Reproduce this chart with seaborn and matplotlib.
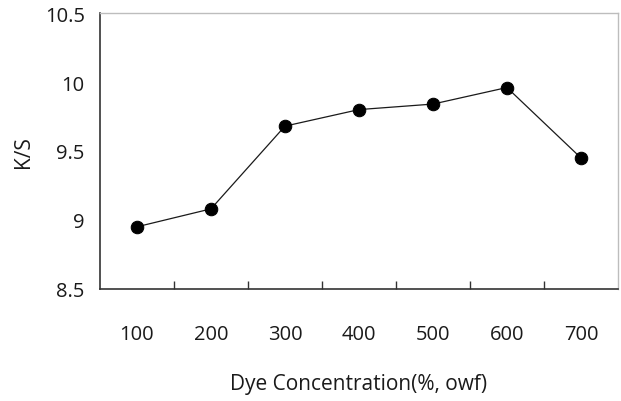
import matplotlib
matplotlib.use("Agg")
import matplotlib.pyplot as plt
import numpy as np
import pandas as pd
import seaborn as sns

# Data
concentration = ["100", "200", "300", "400", "500", "600", "700"]
ks_values = [8.95, 9.08, 9.68, 9.80, 9.84, 9.96, 9.45]
y_ticks = [8.5, 9, 9.5, 10, 10.5]
y_labels = ["8.5", "9", "9.5", "10", "10.5"]

df = pd.DataFrame({"pos": np.arange(len(concentration)), "K/S": ks_values})

sns.set_style("ticks")
plt.rcParams["font.family"] = ["Open Sans", "DejaVu Sans"]

fig = plt.figure(figsize=(6.21, 4.02), dpi=100)
ax = fig.add_axes([0.161, 0.279, 0.834, 0.686])

sns.lineplot(data=df, x="pos", y="K/S", ax=ax, color="#1a1a1a", linewidth=0.9,
             marker="o", markersize=9, markerfacecolor="black", markeredgecolor="black")

# Category-style x axis: labels at centres, tick marks between categories
ax.set_xlim(-0.5, len(concentration) - 0.5)
ax.set_xticks(df["pos"])
ax.set_xticklabels(concentration)
ax.set_xticks(np.arange(0.5, len(concentration) - 1, 1.0), minor=True)
ax.tick_params(axis="x", which="major", bottom=True, length=0, pad=25, labelsize=14.5,
               colors="#1a1a1a")
ax.tick_params(axis="x", which="minor", bottom=True, direction="in", length=6, width=1,
               color="#333333")

# y axis: labels on major ticks, short inward marks drawn as minor ticks
ax.set_ylim(8.5, 10.5)
ax.set_yticks(y_ticks)
ax.set_yticklabels(y_labels)
ax.set_yticks(y_ticks[1:-1], minor=True)
ax.tick_params(axis="y", which="major", left=True, length=0, pad=11, labelsize=14.5,
               labelcolor="#1a1a1a")
ax.tick_params(axis="y", which="minor", left=True, direction="in", length=6, width=1,
               color="#333333")

for side in ["left", "bottom"]:
    ax.spines[side].set_color("#333333")
    ax.spines[side].set_linewidth(1.2)
for side in ["top", "right"]:
    ax.spines[side].set_visible(True)
    ax.spines[side].set_color("#bdbdbd")
    ax.spines[side].set_linewidth(1.0)

ax.set_xlabel("Dye Concentration(%, owf)", fontsize=15, color="#1a1a1a", labelpad=21)
ax.set_ylabel("K/S", fontsize=15, color="#1a1a1a", labelpad=8)

fig.savefig("out.png", dpi=100)
